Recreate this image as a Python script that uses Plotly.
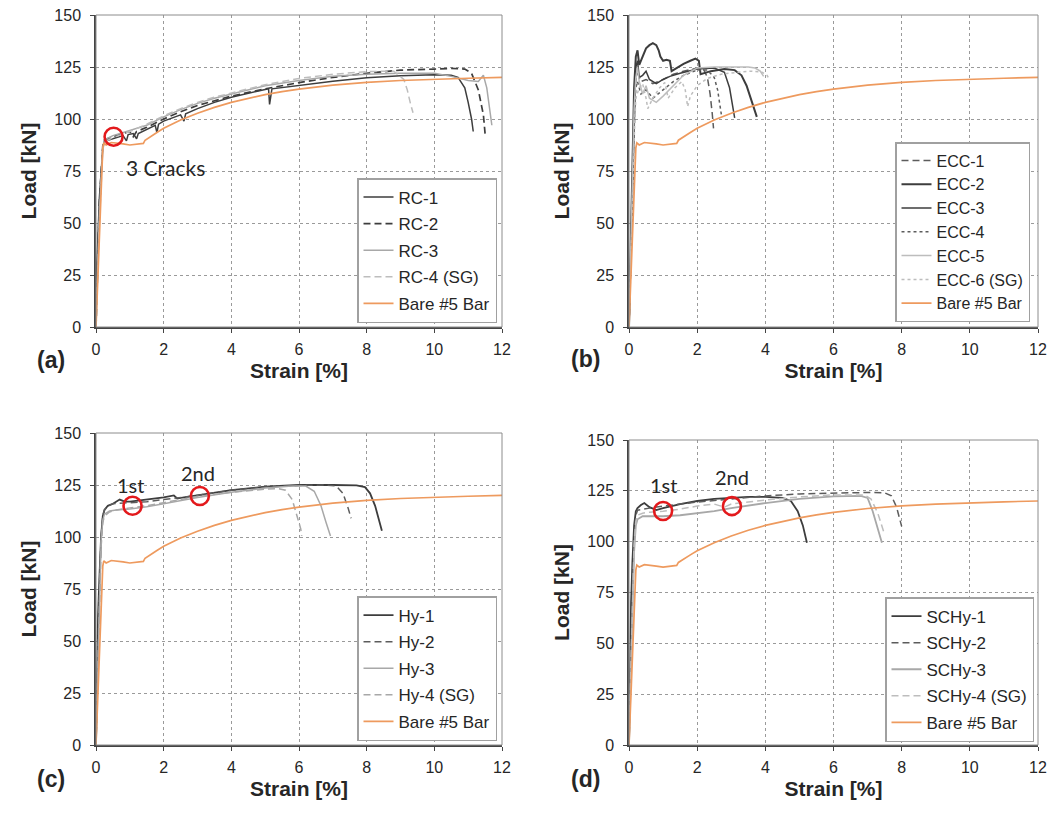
import plotly.graph_objects as go

# ---- data: strain [%] vs load [kN] ----
BARE_STRAIN = [0, 0.05, 0.1, 0.15, 0.2, 0.23, 0.3, 0.45, 0.6, 0.8, 1.0, 1.2, 1.4, 1.45, 1.6, 1.8, 2.0,
               2.5, 3.0, 3.5, 4.0, 4.5, 5.0, 5.5, 6.0, 7.0, 8.0, 9.0, 10.0, 11.0, 12.0]
BARE_LOAD = [0, 22, 45, 68, 86, 88.5, 87.5, 88.7, 88.5, 88.0, 87.5, 87.8, 88.3, 89.8, 91.5, 93.5, 95.5,
             99.5, 102.8, 105.6, 108.0, 110.0, 111.7, 113.2, 114.4, 116.3, 117.6, 118.5, 119.2, 119.6, 120.0]

# (a) RC
RC1_STRAIN = [0, 0.02, 0.05, 0.1, 0.2, 0.25, 0.4, 0.6, 0.8, 0.9, 0.95, 1.1, 1.2, 1.25, 1.5, 1.75, 1.8, 1.85,
              2.0, 2.5, 2.6, 2.65, 3.0, 3.5, 4.0, 4.5, 5.0, 5.1, 5.13, 5.2, 6.0, 7.0, 8.0, 9.0, 10.0, 10.5,
              10.7, 10.9, 11.0, 11.1, 11.15]
RC1_LOAD = [0, 30, 40, 62, 86, 89.5, 90, 91, 92, 89.5, 92.5, 93, 90.5, 93, 95, 97, 93.5, 97.5,
            99, 102, 99, 102.5, 105, 108, 110.5, 112.5, 114.2, 114.5, 107, 114.5, 116.2, 118.2, 119.8, 120.8,
            121.3, 121, 120, 115, 108, 100, 94]
RC2_STRAIN = [0, 0.1, 0.2, 0.25, 0.5, 0.8, 1.0, 1.1, 1.2, 1.5, 2.0, 2.5, 3.0, 4.0, 5.0, 6.0, 7.0, 8.0, 9.0,
              10.0, 10.5, 10.9, 11.1, 11.3, 11.45, 11.5]
RC2_LOAD = [0, 60, 87, 90, 91.5, 93, 94, 91.5, 94, 96, 100, 103.5, 106.5, 111, 114.5, 117.5, 120, 122, 123.5,
            124, 124.3, 124, 122, 114, 102, 93]
RC3_STRAIN = [0, 0.1, 0.2, 0.25, 0.5, 1.0, 1.5, 2.0, 2.5, 3.0, 3.5, 4.0, 5.0, 6.0, 7.0, 8.0, 9.0, 10.0,
              10.5, 11.0, 11.3, 11.45, 11.55, 11.65, 11.7]
RC3_LOAD = [0, 55, 86, 90, 92, 94.5, 97, 101, 104.5, 107.5, 110, 112, 116, 118.5, 120.5, 121.5, 122, 122,
            120.5, 118.5, 118, 121, 115, 103, 97]
RC4_STRAIN = [0, 0.1, 0.2, 0.25, 0.5, 1.0, 1.5, 2.0, 2.5, 3.0, 3.5, 4.0, 5.0, 6.0, 7.0, 8.0, 8.8, 9.1, 9.2,
              9.3, 9.37]
RC4_LOAD = [0, 50, 85, 89, 91, 94, 97.5, 101.5, 105, 108, 110.5, 112.5, 116.5, 119.5, 121.5, 122.8, 123, 119,
            114, 107, 103]

# (b) ECC
ECC1_STRAIN = [0, 0.05, 0.1, 0.15, 0.2, 0.25, 0.35, 0.5, 0.7, 1.0, 1.3, 1.6, 2.0, 2.2, 2.3, 2.38, 2.44, 2.48]
ECC1_LOAD = [0, 35, 70, 100, 120, 122, 118, 119, 117, 119, 121.5, 123, 124.5, 123.5, 120, 112, 103, 95.5]
ECC2_STRAIN = [0, 0.05, 0.1, 0.15, 0.2, 0.25, 0.3, 0.4, 0.5, 0.6, 0.7, 0.8, 0.87, 0.92, 1.0, 1.1, 1.2, 1.25,
               1.4, 1.6, 1.8, 1.95, 2.05, 2.1, 2.4, 2.8, 3.1, 3.3, 3.45, 3.6, 3.7, 3.75]
ECC2_LOAD = [0, 40, 80, 115, 130, 133, 126, 130, 134, 135.5, 136.5, 135.5, 133, 130, 128, 128.5, 128, 123,
             124.5, 126.5, 128, 129, 128, 121.5, 123, 124, 123.5, 121, 116, 108, 103, 101]
ECC3_STRAIN = [0, 0.05, 0.1, 0.15, 0.2, 0.25, 0.3, 0.4, 0.5, 0.6, 0.8, 1.0, 1.2, 1.5, 2.0, 2.5, 2.8, 2.95,
               3.05, 3.1]
ECC3_LOAD = [0, 30, 65, 100, 125, 128, 120, 121, 123, 119, 117, 119, 120.5, 122, 124, 124.5, 122.5, 115,
             106, 100.5]
ECC4_STRAIN = [0, 0.05, 0.1, 0.15, 0.2, 0.25, 0.35, 0.5, 0.7, 1.0, 1.3, 1.6, 2.0, 2.3, 2.5, 2.6, 2.68, 2.72]
ECC4_LOAD = [0, 25, 60, 95, 115, 118, 112, 114, 110, 114, 118, 121, 123.5, 123.5, 120, 114, 106, 101]
ECC5_STRAIN = [0, 0.05, 0.1, 0.15, 0.2, 0.25, 0.3, 0.4, 0.5, 0.6, 0.8, 1.0, 1.3, 1.6, 2.0, 2.5, 3.0, 3.5,
               3.7, 3.85, 3.95]
ECC5_LOAD = [0, 30, 70, 105, 120, 125, 118, 112, 116, 110, 108, 111, 116, 121, 124.5, 125, 125, 125,
             124.5, 123, 120.5]
ECC6_STRAIN = [0, 0.05, 0.1, 0.15, 0.2, 0.3, 0.4, 0.5, 0.55, 0.7, 0.9, 1.05, 1.15, 1.35, 1.55, 1.65, 1.72,
               1.8, 2.0, 2.3, 2.7, 3.2, 3.6, 3.9, 4.05, 4.1]
ECC6_LOAD = [0, 25, 55, 90, 110, 115, 117, 110, 105, 110, 115, 117.5, 110, 115, 118, 114, 106,
             111, 116, 119.5, 121.5, 122.5, 123, 122.5, 121, 119.5]

# (c) Hy
HY1_STRAIN = [0, 0.03, 0.06, 0.1, 0.15, 0.2, 0.25, 0.35, 0.5, 0.7, 0.85, 1.0, 1.5, 2.0, 2.3, 2.4, 2.6, 3.0,
              4.0, 5.0, 6.0, 7.0, 7.7, 7.95, 8.1, 8.25, 8.38, 8.45]
HY1_LOAD = [0, 40, 62, 80, 100, 110, 113, 115, 116, 118, 117, 117, 118, 119, 120, 118.5, 119, 120,
            122.5, 124.2, 125, 125, 124.8, 124, 121, 115, 108, 103]
HY2_STRAIN = [0, 0.05, 0.1, 0.15, 0.2, 0.25, 0.35, 0.5, 1.0, 1.5, 2.0, 2.5, 3.0, 4.0, 5.0, 6.0, 6.8, 7.1,
              7.3, 7.45, 7.54]
HY2_LOAD = [0, 45, 75, 100, 110, 113, 115, 116, 116.5, 117, 118, 119, 120, 122.5, 124, 124.8, 125, 124.5,
            121, 114, 109]
HY3_STRAIN = [0, 0.05, 0.1, 0.15, 0.2, 0.25, 0.4, 0.6, 1.0, 1.5, 2.0, 3.0, 4.0, 5.0, 5.8, 6.2, 6.45, 6.65,
              6.8, 6.93]
HY3_LOAD = [0, 35, 70, 98, 108, 111, 112.5, 113, 113.5, 114.5, 116, 119, 121.5, 123.5, 124.5, 124.5, 122,
            115, 107, 100.5]
HY4_STRAIN = [0, 0.05, 0.1, 0.15, 0.2, 0.25, 0.4, 0.6, 1.0, 1.5, 2.0, 3.0, 4.0, 5.0, 5.4, 5.6, 5.8, 5.95,
              6.05, 6.08]
HY4_LOAD = [0, 30, 65, 95, 107, 110, 112, 113, 114, 115, 116.5, 119.5, 121.5, 123, 123.2, 122.5, 118, 110,
            104, 100.5]

# (d) SCHy
SCHY1_STRAIN = [0, 0.03, 0.06, 0.1, 0.15, 0.2, 0.25, 0.35, 0.45, 0.6, 0.8, 1.0, 1.5, 2.0, 2.5, 3.0, 3.5,
                4.0, 4.5, 4.75, 4.95, 5.1, 5.2, 5.22]
SCHY1_LOAD = [0, 45, 70, 90, 108, 115, 116.5, 118, 119, 117, 115.5, 116.5, 118.5, 120, 121, 121.5, 122,
              122, 121.5, 120, 115, 108, 102, 99.5]
SCHY2_STRAIN = [0, 0.05, 0.1, 0.15, 0.2, 0.25, 0.4, 0.6, 1.0, 1.5, 2.0, 3.0, 4.0, 5.0, 6.0, 7.0, 7.5, 7.7,
                7.85, 7.95, 8.0]
SCHY2_LOAD = [0, 40, 75, 100, 113, 115.5, 116, 116.5, 117.5, 118.5, 119.5, 121, 122.5, 123.5, 124, 124.2,
              124, 122.5, 117, 111, 107.5]
SCHY3_STRAIN = [0, 0.05, 0.1, 0.15, 0.2, 0.25, 0.4, 0.6, 1.0, 1.5, 2.0, 2.5, 3.0, 4.0, 5.0, 6.0, 6.8, 7.0,
                7.15, 7.3, 7.42]
SCHY3_LOAD = [0, 30, 65, 95, 108, 111, 112.5, 112.5, 112.5, 113, 114, 115, 116.5, 119, 121, 122.3, 122.5,
              121.5, 115, 106, 99.5]
SCHY4_STRAIN = [0, 0.05, 0.1, 0.15, 0.2, 0.25, 0.4, 0.6, 1.0, 1.5, 2.0, 2.5, 2.8, 3.0, 4.0, 5.0, 6.0, 6.9,
                7.1, 7.3, 7.47]
SCHY4_LOAD = [0, 35, 70, 98, 110, 113, 114, 114.5, 115, 116, 117.5, 118.5, 117, 118.5, 120.5, 122, 123, 123,
              121, 114, 105]

# red crack markers and their labels
CRACK_A_STRAIN = [0.52]
CRACK_A_LOAD = [91.5]
CRACK_C_STRAIN = [1.08, 3.07]
CRACK_C_LOAD = [115, 119.7]
CRACK_D_STRAIN = [1.0, 3.02]
CRACK_D_LOAD = [115.1, 117.5]
CRACK_TEXT = ["1st", "2nd"]
CRACK_C_TEXT_LOAD = [125, 131]
CRACK_D_TEXT_LOAD = [127.9, 131.6]

PANEL_LABELS = ["(a)", "(b)", "(c)", "(d)"]

DARK = "#3d3d3d"
MID = "#5c5c5c"
LIGHT = "#a8a8a8"
PALE = "#bdbdbd"
ORANGE = "#EE9A5E"
TXT = "#262626"
FONT = "Liberation Sans, Arial, sans-serif"
CAL = "Lato, Open Sans, sans-serif"

# the page puts the figure 8px in from the top-left corner; positions below are page pixels
OFF = 8
W, H = 1058 - OFF * 2, 814 - OFF * 2
BOXES = [(96, 15, 502, 327), (629, 15, 1038, 327), (96, 433, 502, 745), (629, 440, 1038, 745)]
LEGEND_CORNERS = [(497, 323), (1030, 322), (497, 741), (1034, 742)]
LABEL_POS = [(51, 360), (585, 359), (51, 779), (585, 779)]


def fx(px):
    return (px - OFF) / W


def fy(py):
    return 1 - (py - OFF) / H


fig = go.Figure()


def add_curve(panel, name, x, y, color, dash="solid", width=1.5):
    sfx = "" if panel == 1 else str(panel)
    fig.add_trace(go.Scatter(
        x=x, y=y, mode="lines", name=name,
        line=dict(color=color, dash=dash, width=width),
        xaxis="x" + sfx, yaxis="y" + sfx, legend="legend" + sfx,
        legendgroup=f"{panel}-{name}", hoverinfo="skip",
    ))


def add_circles(panel, x, y):
    sfx = "" if panel == 1 else str(panel)
    fig.add_trace(go.Scatter(
        x=x, y=y, mode="markers", showlegend=False, hoverinfo="skip",
        marker=dict(symbol="circle-open", size=18, color="#e3191c", line=dict(width=2.6)),
        xaxis="x" + sfx, yaxis="y" + sfx,
    ))


LONG = "7px,4px"
SHORT = "3px,3px"

add_curve(1, "RC-1", RC1_STRAIN, RC1_LOAD, DARK)
add_curve(1, "RC-2", RC2_STRAIN, RC2_LOAD, DARK, LONG, 1.7)
add_curve(1, "RC-3", RC3_STRAIN, RC3_LOAD, LIGHT)
add_curve(1, "RC-4 (SG)", RC4_STRAIN, RC4_LOAD, PALE, LONG)
add_curve(1, "Bare #5 Bar", BARE_STRAIN, BARE_LOAD, ORANGE, width=1.7)

add_curve(2, "ECC-1", ECC1_STRAIN, ECC1_LOAD, MID, LONG)
add_curve(2, "ECC-2", ECC2_STRAIN, ECC2_LOAD, DARK, width=2)
add_curve(2, "ECC-3", ECC3_STRAIN, ECC3_LOAD, DARK)
add_curve(2, "ECC-4", ECC4_STRAIN, ECC4_LOAD, MID, SHORT)
add_curve(2, "ECC-5", ECC5_STRAIN, ECC5_LOAD, PALE)
add_curve(2, "ECC-6 (SG)", ECC6_STRAIN, ECC6_LOAD, PALE, SHORT)
add_curve(2, "Bare #5 Bar", BARE_STRAIN, BARE_LOAD, ORANGE, width=1.7)

add_curve(3, "Hy-1", HY1_STRAIN, HY1_LOAD, DARK, width=1.8)
add_curve(3, "Hy-2", HY2_STRAIN, HY2_LOAD, MID, LONG)
add_curve(3, "Hy-3", HY3_STRAIN, HY3_LOAD, LIGHT)
add_curve(3, "Hy-4 (SG)", HY4_STRAIN, HY4_LOAD, LIGHT, LONG)
add_curve(3, "Bare #5 Bar", BARE_STRAIN, BARE_LOAD, ORANGE, width=1.7)

add_curve(4, "SCHy-1", SCHY1_STRAIN, SCHY1_LOAD, DARK, width=1.8)
add_curve(4, "SCHy-2", SCHY2_STRAIN, SCHY2_LOAD, MID, LONG)
add_curve(4, "SCHy-3", SCHY3_STRAIN, SCHY3_LOAD, LIGHT, width=1.8)
add_curve(4, "SCHy-4 (SG)", SCHY4_STRAIN, SCHY4_LOAD, PALE, LONG)
add_curve(4, "Bare #5 Bar", BARE_STRAIN, BARE_LOAD, ORANGE, width=1.7)

add_circles(1, CRACK_A_STRAIN, CRACK_A_LOAD)
add_circles(3, CRACK_C_STRAIN, CRACK_C_LOAD)
add_circles(4, CRACK_D_STRAIN, CRACK_D_LOAD)

layout = dict(
    width=W, height=H, margin=dict(l=0, r=0, t=0, b=0, autoexpand=False),
    paper_bgcolor="white", plot_bgcolor="white",
    font=dict(family=FONT, color=TXT), showlegend=True,
)
annotations = []
shapes = []
for i, (l, t, r, b) in enumerate(BOXES):
    n = i + 1
    sfx = "" if n == 1 else str(n)
    common = dict(
        showgrid=True, gridcolor="#9a9a9a", griddash="dot", gridwidth=1,
        showline=True, linecolor="#444", linewidth=1.5, zeroline=False,
        ticks="outside", ticklen=4, tickcolor="#444", automargin=False,
        ticklabeloverflow="allow",
        tickfont=dict(size=16, family=FONT, color=TXT),
    )
    layout["xaxis" + sfx] = dict(
        common, domain=[fx(l), fx(r)], anchor="y" + sfx, range=[0, 12], dtick=2,
        ticklabelstandoff=3,
        title=dict(text="<b>Strain [%]</b>", font=dict(size=21, family=FONT), standoff=6),
    )
    layout["yaxis" + sfx] = dict(
        common, domain=[fy(b), fy(t)], anchor="x" + sfx, range=[0, 150], dtick=25,
        ticklabelstandoff=6,
        title=dict(text="<b>Load [kN]</b>", font=dict(size=21, family=FONT), standoff=12),
    )
    lx, ly = LEGEND_CORNERS[i]
    layout["legend" + sfx] = dict(
        x=fx(lx), y=fy(ly), xanchor="right", yanchor="bottom",
        bgcolor="white", bordercolor="#a0a0a0", borderwidth=1.5,
        font=dict(size=16 if n == 2 else 17, family=FONT, color=TXT),
        traceorder="grouped", tracegroupgap=0 if n == 2 else 1.5,
    )
    shapes.append(dict(
        type="rect", xref=f"x{sfx} domain", yref=f"y{sfx} domain",
        x0=0, x1=1, y0=0, y1=1, line=dict(color="#8c8c8c", width=1), layer="above",
    ))
    px, py = LABEL_POS[i]
    annotations.append(dict(
        text=f"<b>{PANEL_LABELS[i]}</b>", x=fx(px), y=fy(py), xref="paper", yref="paper",
        xanchor="center", yanchor="middle",
        showarrow=False, font=dict(size=23, family=FONT, color=TXT),
    ))

annotations.append(dict(
    text="3 Cracks", x=2.04, y=76.7, xref="x", yref="y", showarrow=False,
    xanchor="center", yanchor="middle",
    font=dict(size=21, family=CAL, color=TXT),
))
for sx, ty, txt in zip(CRACK_C_STRAIN, CRACK_C_TEXT_LOAD, CRACK_TEXT):
    annotations.append(dict(
        text=txt, x=sx - 0.05, y=ty, xref="x3", yref="y3", showarrow=False,
        xanchor="center", yanchor="middle",
        font=dict(size=20, family=CAL, color=TXT),
    ))
for sx, ty, txt in zip(CRACK_D_STRAIN, CRACK_D_TEXT_LOAD, CRACK_TEXT):
    annotations.append(dict(
        text=txt, x=sx, y=ty, xref="x4", yref="y4", showarrow=False,
        xanchor="center", yanchor="middle",
        font=dict(size=20, family=CAL, color=TXT),
    ))

layout["annotations"] = annotations
layout["shapes"] = shapes
fig.update_layout(**layout)

fig.write_html("out.html")
